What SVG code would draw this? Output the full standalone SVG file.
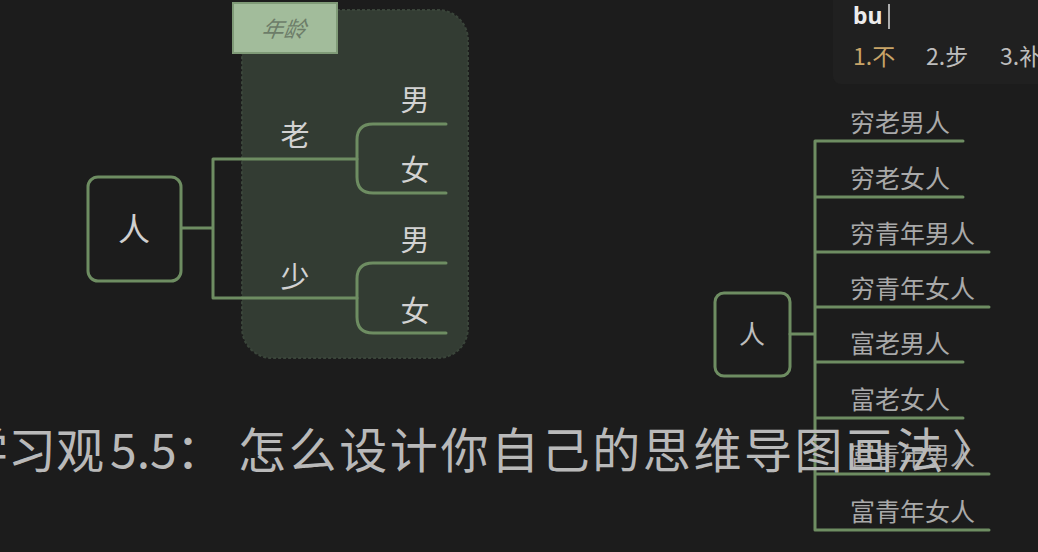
<svg xmlns="http://www.w3.org/2000/svg" width="1038" height="552" viewBox="0 0 1038 552">
<style>
.ln{fill:none;stroke:#6e8d62;stroke-width:3;stroke-linecap:round;stroke-linejoin:round}
.nd{fill:none;stroke:#6e8d62;stroke-width:3}
.lt{font-family:"Noto Sans CJK SC",sans-serif;font-size:29px;fill:#d2d2d2;text-anchor:middle}
.rt{font-family:"Noto Sans CJK SC",sans-serif;font-size:25px;fill:#a9a9a9}
.cap{font-family:"Noto Sans CJK SC",sans-serif;font-size:48px;fill:#b9b9b9}
</style>
<rect width="1038" height="552" fill="#1c1c1c"/>
<g id="panel">
<rect x="242" y="10" width="226" height="348" rx="30" fill="#333c33" stroke="#3a453a" stroke-width="2" stroke-dasharray="3 2"/>
</g>
<g id="age-label">
<rect x="233" y="3" width="104" height="50" fill="#a2bc9b" stroke="#7f9a77" stroke-width="2"/>
<text x="284" y="37" font-family="Noto Sans CJK SC,sans-serif" font-size="22" font-style="italic" fill="#6d7d69" text-anchor="middle" transform="skewX(-8) translate(4 0)">年龄</text>
</g>
<g id="connectors">
<path class="ln" d="M182,228 H213 M213,159 V298 M213,159 H357 M213,298 H357"/>
<path class="ln" d="M446,124 H373 Q357,124 357,140 V177 Q357,193 373,193 H446"/>
<path class="ln" d="M446,263 H373 Q357,263 357,279 V317 Q357,333 373,333 H446"/>
<path class="ln" d="M790,334 H815 M815,141 V530 M815,141 H963 M815,197 H963 M815,252 H989 M815,307 H989 M815,362 H963 M815,418 H963 M815,474 H989 M815,530 H989"/>
</g>
<g id="node-ren-left">
<rect class="nd" x="88" y="177" width="93" height="104" rx="10"/>
<text x="134" y="241" font-family="Noto Sans CJK SC,sans-serif" font-size="32" fill="#cfcfcf" text-anchor="middle">人</text>
</g>
<g id="node-lao"><text class="lt" x="295" y="146">老</text></g>
<g id="node-shao"><text class="lt" x="295" y="288">少</text></g>
<g id="node-nan1"><text class="lt" x="415" y="111">男</text></g>
<g id="node-nv1"><text class="lt" x="415" y="181">女</text></g>
<g id="node-nan2"><text class="lt" x="415" y="251">男</text></g>
<g id="node-nv2"><text class="lt" x="415" y="322">女</text></g>
<g id="node-ren-right">
<rect class="nd" x="715" y="293" width="75" height="83" rx="9"/>
<text x="752" y="344" font-family="Noto Sans CJK SC,sans-serif" font-size="26" fill="#bdbdbd" text-anchor="middle">人</text>
</g>
<g id="r1"><text class="rt" x="850" y="132">穷老男人</text></g>
<g id="r2"><text class="rt" x="850" y="188">穷老女人</text></g>
<g id="r3"><text class="rt" x="850" y="243">穷青年男人</text></g>
<g id="r4"><text class="rt" x="850" y="298">穷青年女人</text></g>
<g id="r5"><text class="rt" x="850" y="353">富老男人</text></g>
<g id="r6"><text class="rt" x="850" y="409">富老女人</text></g>
<g id="r7"><text class="rt" x="850" y="465">富青年男人</text></g>
<g id="r8"><text class="rt" x="850" y="521">富青年女人</text></g>
<g id="ime">
<rect x="833" y="-10" width="215" height="94" rx="8" fill="#202020"/>
<text x="853" y="24" font-family="Noto Sans,sans-serif" font-size="23" font-weight="bold" fill="#ececec">bu</text>
<line x1="889" y1="4" x2="889" y2="29" stroke="#dcdcdc" stroke-width="1.5"/>
<text x="853" y="65" font-family="Noto Sans CJK SC,sans-serif" font-size="23" fill="#c8a468">1.不</text>
<text x="926" y="65" font-family="Noto Sans CJK SC,sans-serif" font-size="23" fill="#bdbdbd">2.步</text>
<text x="1000" y="65" font-family="Noto Sans CJK SC,sans-serif" font-size="23" fill="#bdbdbd">3.补</text>
</g>
<g id="caption">
<text class="cap" x="-40" y="468">学习观</text>
<text class="cap" x="110" y="468">5.5</text>
<text class="cap" x="176" y="468">：</text>
<text class="cap" x="238" y="468" letter-spacing="2.6">怎么设计你自己的思维导图画法</text>
<text x="952" y="466" font-family="Noto Sans CJK SC,sans-serif" font-size="44" fill="#b9b9b9">〉</text>
</g>
</svg>
